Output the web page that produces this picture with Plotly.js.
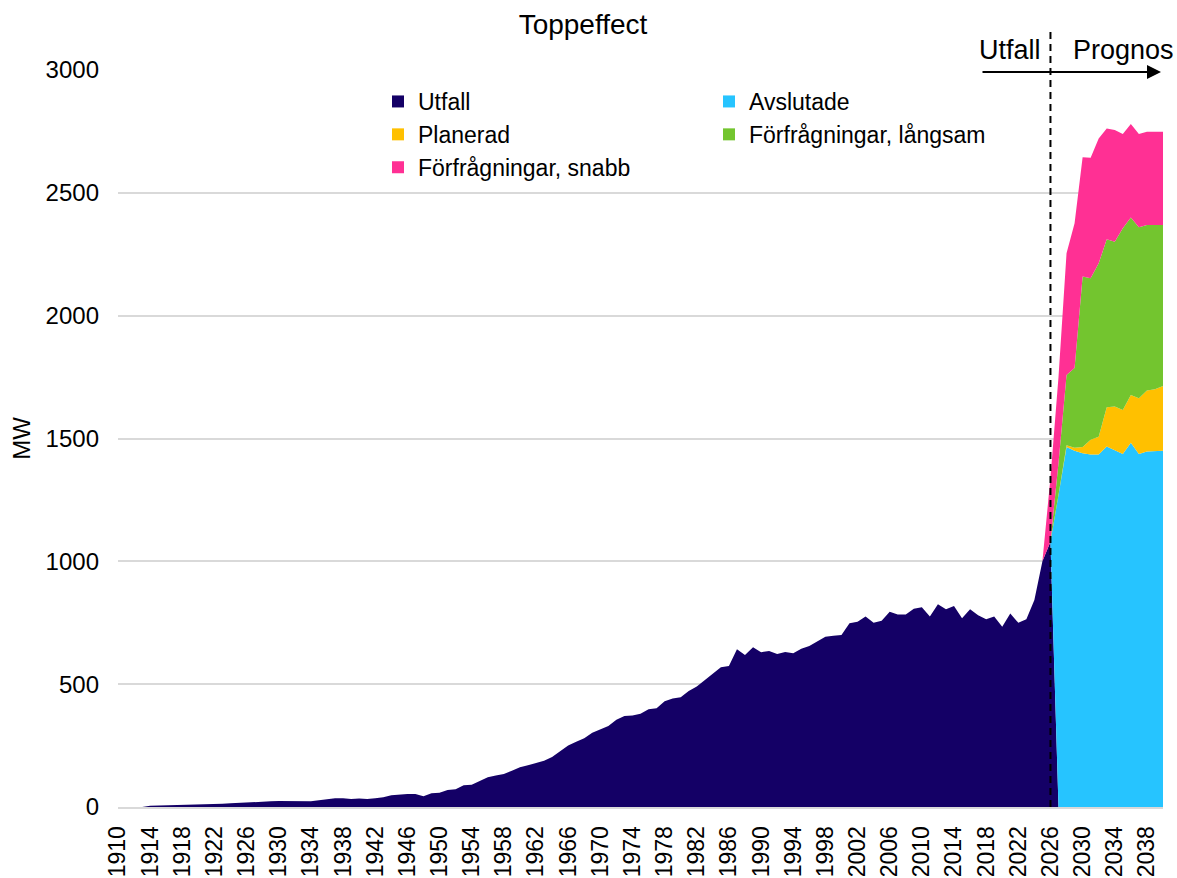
<!DOCTYPE html>
<html>
<head>
<meta charset="utf-8">
<script src="https://cdn.plot.ly/plotly-3.0.1.min.js"></script>
<style>html,body{margin:0;padding:0;background:#fff}#chart{width:1177px;height:878px}</style>
</head>
<body>
<div id="chart"></div>
<script>
// ---- data ----
const firstYear = 1910;
const lastYear = 2040;
const forecastStart = 2026;

// Utfall (MW), years 1910..2026
const utfall = [
  0,0,0,0,5,6,6,6,7,7,
  9,10,12,13,15,17,19,21,23,23,
  24,24,23,23,23,27,33,36,36,33,
  35,33,36,40,48,52,53,53,44,56,
  58,69,72,89,91,106,121,128,134,148,
  162,170,178,188,204,226,250,266,280,302,
  316,330,355,370,372,380,398,402,430,442,
  447,472,490,517,544,569,574,642,619,650,
  630,635,623,631,626,644,655,674,693,697,
  700,748,754,775,750,758,795,784,784,807,
  813,775,825,805,818,768,805,781,764,775,
  734,788,750,764,843,1000,1080
];
// Forecast series (MW), years 2026..2040
const avslutade = [0,1270,1465,1450,1440,1435,1435,1467,1453,1437,1483,1437,1447,1450,1450];
const planerad  = [0,0,8,12,25,60,72,160,177,179,194,227,248,250,264];
const langsam   = [0,130,285,325,694,657,706,684,671,740,723,696,674,669,655];
const snabb     = [260,350,496,589,486,491,508,451,455,383,380,379,380,380,380];

const seriesNames = ['Utfall','Avslutade','Planerad','Förfrågningar, långsam','Förfrågningar, snabb'];
const seriesColors = ['#140066','#26C4FF','#FFC000','#73C52F','#FF3094'];
const tickYears = [1910,1914,1918,1922,1926,1930,1934,1938,1942,1946,1950,1954,1958,1962,1966,1970,1974,1978,1982,1986,1990,1994,1998,2002,2006,2010,2014,2018,2022,2026,2030,2034,2038];
const yTicks = [0,500,1000,1500,2000,2500,3000];

// ---- build full-length arrays ----
const years = [];
for (let y = firstYear; y <= lastYear; y++) years.push(y);
function fullUtfall() {
  return years.map((y, i) => i < utfall.length ? utfall[i] : 0);
}
function fullForecast(arr) {
  return years.map(y => y < forecastStart ? 0 : arr[y - forecastStart]);
}
const allSeries = [fullUtfall(), fullForecast(avslutade), fullForecast(planerad), fullForecast(langsam), fullForecast(snabb)];

const FONT = 'Liberation Sans, Arial, Helvetica, sans-serif';

const traces = [];
allSeries.forEach((vals, i) => {
  traces.push({
    type: 'scatter', mode: 'lines', x: years, y: vals,
    stackgroup: 'one', name: seriesNames[i],
    line: {width: 0, color: seriesColors[i]},
    fillcolor: seriesColors[i],
    showlegend: false, hoverinfo: 'x+y+name'
  });
});
// legend entries (square markers), two columns
const legendOf = ['legend','legend2','legend','legend2','legend'];
seriesNames.forEach((n, i) => {
  traces.push({
    type: 'scatter', mode: 'markers', x: [null], y: [null], name: n,
    marker: {symbol: 'square', size: 12, color: seriesColors[i]},
    legend: legendOf[i], showlegend: true, hoverinfo: 'skip'
  });
});

const W = 1177, H = 878, ML = 118, MR = 14, MT = 70, MB = 71;
const PW = W - ML - MR, PH = H - MT - MB;
const px2x = p => (p - ML) / PW;
const py2y = p => 1 - (p - MT) / PH;

const legendCommon = {
  orientation: 'v', xanchor: 'left', yanchor: 'top', traceorder: 'normal',
  bgcolor: 'rgba(0,0,0,0)', borderwidth: 0,
  font: {family: FONT, size: 23, color: '#000'},
  itemwidth: 30, tracegroupgap: 0
};

const layout = {
  width: W, height: H,
  margin: {l: ML, r: MR, t: MT, b: MB, pad: 0},
  paper_bgcolor: '#ffffff', plot_bgcolor: '#ffffff',
  font: {family: FONT, size: 23, color: '#000'},
  title: {
    text: 'Toppeffect', font: {family: FONT, size: 28, color: '#000'},
    xref: 'paper', x: px2x(583), xanchor: 'center',
    yref: 'container', y: 1 - 24 / H, yanchor: 'middle'
  },
  xaxis: {
    range: [firstYear, lastYear], tickmode: 'array',
    tickvals: tickYears, ticktext: tickYears.map(String),
    tickangle: -90, showgrid: false, zeroline: false,
    showline: true, linecolor: '#d9d9d9', linewidth: 2,
    ticks: '', ticklabelstandoff: 8,
    tickfont: {family: FONT, size: 23, color: '#000'}, fixedrange: true
  },
  yaxis: {
    range: [0, 3000], tickmode: 'array', tickvals: yTicks,
    showgrid: true, gridcolor: '#d9d9d9', gridwidth: 2,
    zeroline: false, showline: false, ticks: '', ticklabelstandoff: 18,
    tickfont: {family: FONT, size: 24, color: '#000'},
    title: {text: 'MW', standoff: 8, font: {family: FONT, size: 24, color: '#000'}},
    fixedrange: true
  },
  showlegend: true,
  legend: Object.assign({}, legendCommon, {x: px2x(378), y: py2y(80)}),
  legend2: Object.assign({}, legendCommon, {x: px2x(709), y: py2y(80)}),
  shapes: [{
    type: 'line', xref: 'paper', yref: 'paper',
    x0: (forecastStart - firstYear) / (lastYear - firstYear),
    x1: (forecastStart - firstYear) / (lastYear - firstYear),
    y0: 0, y1: py2y(30),
    line: {color: '#000', width: 2, dash: '7px,5px'}, layer: 'above'
  }],
  annotations: [
    {xref: 'paper', yref: 'paper', x: px2x(1043), y: py2y(50), xanchor: 'right', yanchor: 'middle',
     text: 'Utfall', showarrow: false, font: {family: FONT, size: 27, color: '#000'}},
    {xref: 'paper', yref: 'paper', x: px2x(1071), y: py2y(50), xanchor: 'left', yanchor: 'middle',
     text: 'Prognos', showarrow: false, font: {family: FONT, size: 27, color: '#000'}},
    {xref: 'paper', yref: 'paper', x: px2x(1161), y: py2y(72), text: '',
     showarrow: true, ax: -180, ay: 0, arrowhead: 2, arrowsize: 1.4, arrowwidth: 2, arrowcolor: '#000'}
  ]
};

Plotly.newPlot('chart', traces, layout, {displayModeBar: false, responsive: false, staticPlot: true});
</script>
</body>
</html>
